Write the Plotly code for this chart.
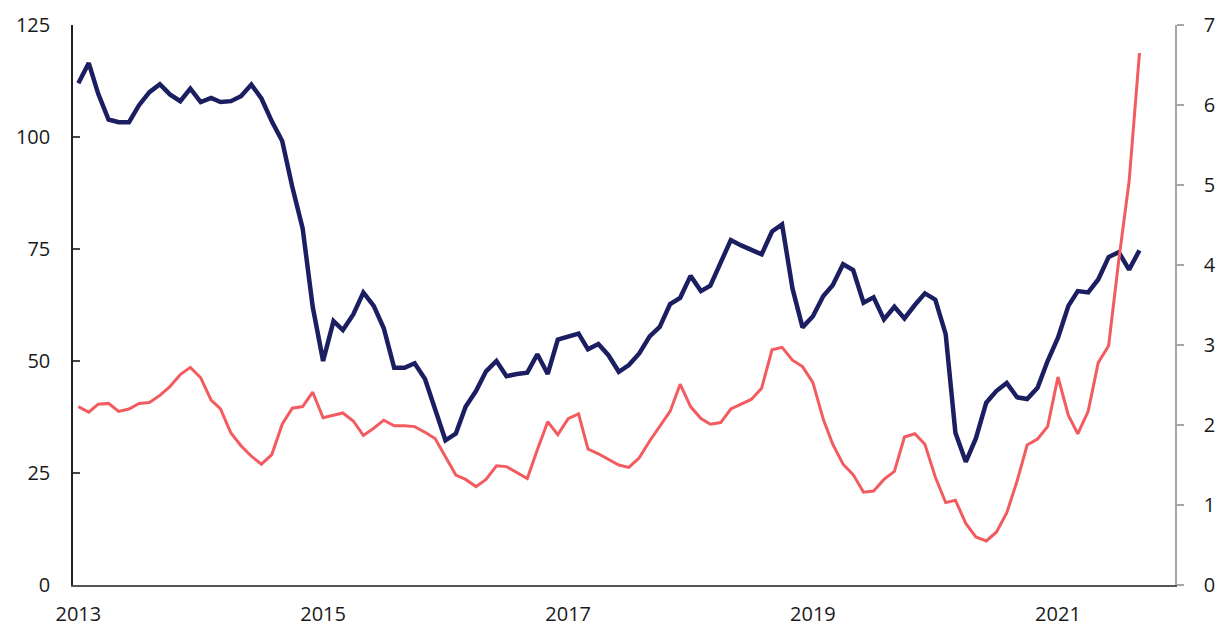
import pandas as pd
import plotly.graph_objects as go

# Monthly observations, January 2013 – September 2021
months = pd.date_range("2013-01-01", periods=105, freq="MS")

# Left axis series (navy)
navy_values = [
    112.0, 116.5, 109.7, 103.9, 103.3, 103.3, 107.1, 110.0, 111.8, 109.5, 108.0, 110.8,
    107.8, 108.7, 107.8, 108.0, 109.1, 111.7, 108.6, 103.5, 99.1, 88.9, 79.6, 62.1,
    50.0, 58.9, 56.9, 60.4, 65.3, 62.3, 57.3, 48.5, 48.5, 49.5, 46.0, 39.0,
    32.3, 33.8, 39.8, 43.3, 47.7, 50.0, 46.6, 47.1, 47.4, 51.5, 47.1, 54.8,
    55.5, 56.1, 52.6, 53.8, 51.3, 47.6, 49.1, 51.7, 55.5, 57.6, 62.7, 64.1,
    69.0, 65.6, 66.8, 71.8, 77.0, 75.8, 74.9, 73.8, 78.9, 80.5, 66.2, 57.5,
    60.0, 64.5, 66.9, 71.6, 70.3, 63.0, 64.2, 59.3, 62.1, 59.5, 62.5, 65.1,
    63.7, 56.0, 34.0, 27.5, 32.7, 40.7, 43.3, 45.1, 41.9, 41.5, 44.0, 50.0,
    55.2, 62.3, 65.6, 65.3, 68.2, 73.2, 74.3, 70.4, 74.7,
]

# Right axis series (red)
red_values = [
    2.23, 2.16, 2.26, 2.27, 2.17, 2.20, 2.27, 2.28, 2.37, 2.48, 2.63, 2.72,
    2.59, 2.31, 2.20, 1.90, 1.74, 1.61, 1.51, 1.63, 2.01, 2.21, 2.23, 2.41,
    2.09, 2.12, 2.15, 2.05, 1.87, 1.96, 2.06, 1.99, 1.99, 1.98, 1.91, 1.83,
    1.60, 1.375, 1.32, 1.23, 1.32, 1.49, 1.48, 1.40, 1.33, 1.69, 2.04, 1.88,
    2.08, 2.14, 1.70, 1.64, 1.57, 1.50, 1.47, 1.59, 1.80, 1.98, 2.17, 2.51,
    2.23, 2.08, 2.01, 2.03, 2.20, 2.26, 2.32, 2.46, 2.94, 2.97, 2.81, 2.73,
    2.53, 2.07, 1.76, 1.51, 1.38, 1.16, 1.175, 1.32, 1.42, 1.85, 1.89, 1.76,
    1.35, 1.03, 1.06, 0.77, 0.60, 0.55, 0.66, 0.90, 1.30, 1.75, 1.825, 1.98,
    2.60, 2.12, 1.89, 2.17, 2.78, 2.99, 4.05, 5.04, 6.65,
]

left_ticks = [0, 25, 50, 75, 100, 125]
right_ticks = [0, 1, 2, 3, 4, 5, 6, 7]
year_ticks = ["2013-01-01", "2015-01-01", "2017-01-01", "2019-01-01", "2021-01-01"]
year_labels = ["2013", "2015", "2017", "2019", "2021"]

NAVY = "#1b1f62"
RED = "#f25c60"
FONT = "Open Sans"

fig = go.Figure()
fig.add_trace(go.Scatter(x=months, y=navy_values, mode="lines",
                         line=dict(color=NAVY, width=4.5), yaxis="y", name="Left"))
fig.add_trace(go.Scatter(x=months, y=red_values, mode="lines",
                         line=dict(color=RED, width=3), yaxis="y2", name="Right"))

fig.update_layout(
    width=1217, height=627,
    margin=dict(l=73, r=42, t=25, b=42, autoexpand=False),
    paper_bgcolor="white", plot_bgcolor="white",
    showlegend=False,
    font=dict(family=FONT, size=20, color="#1a1a1a"),
    xaxis=dict(
        range=["2012-12-16", "2021-12-16"],
        tickmode="array", tickvals=year_ticks, ticktext=year_labels,
        showgrid=False, zeroline=False,
        showline=True, linecolor="#555555", linewidth=1.5,
        ticks="", ticklabelstandoff=10,
    ),
    yaxis=dict(
        range=[0, 125], tickmode="array", tickvals=left_ticks,
        showgrid=False, zeroline=False,
        showline=True, linecolor="#222222", linewidth=1.5,
        ticks="inside", ticklen=7, tickcolor="#444444", tickwidth=1.5,
        ticklabelstandoff=17,
    ),
    yaxis2=dict(
        range=[0, 7], tickmode="array", tickvals=right_ticks,
        overlaying="y", side="right",
        showgrid=False, zeroline=False,
        showline=True, linecolor="#a6a6a6", linewidth=1.5,
        ticks="outside", ticklen=7, tickcolor="#a6a6a6", tickwidth=1.5,
        ticklabelstandoff=16,
    ),
)

fig.write_html(
    "out.html",
    config={"displayModeBar": False},
    post_script="document.body.style.margin='0';document.body.style.overflow='hidden';",
)
